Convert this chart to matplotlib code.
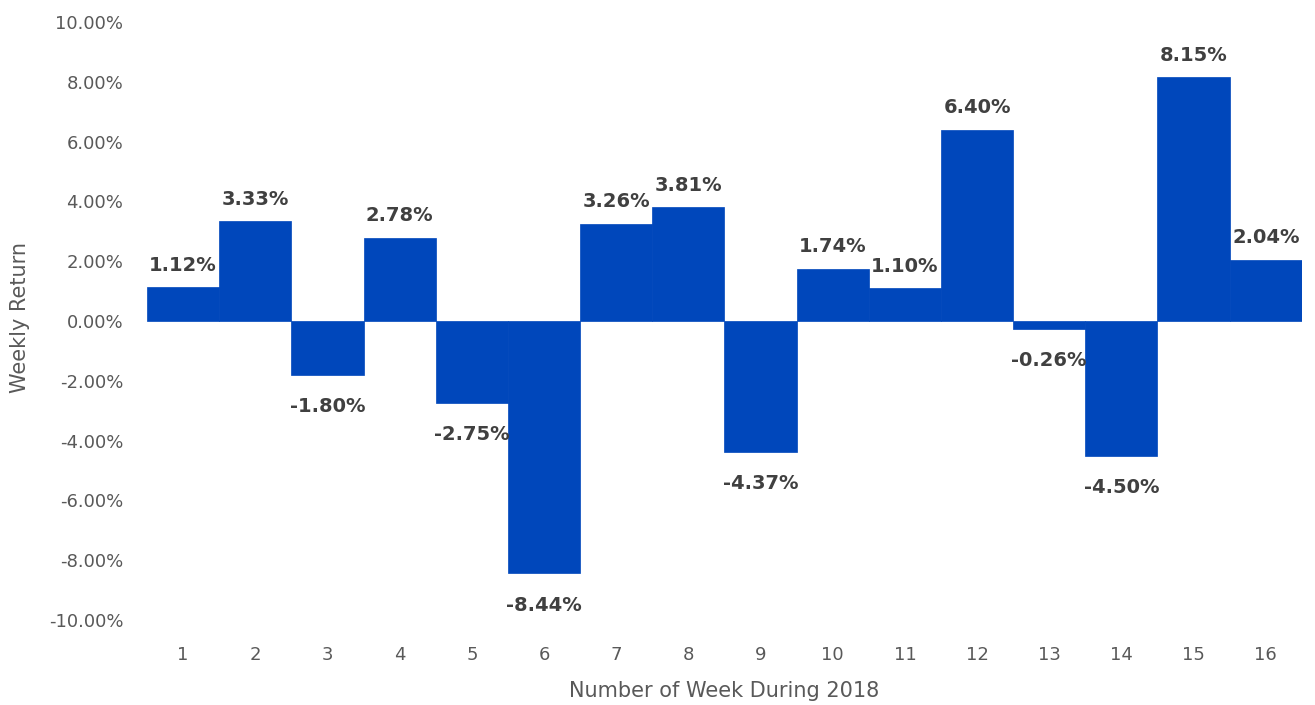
import matplotlib
matplotlib.use("Agg")
import matplotlib.pyplot as plt
from matplotlib.ticker import FuncFormatter

weeks = list(range(1, 17))
returns = [1.12, 3.33, -1.80, 2.78, -2.75, -8.44, 3.26, 3.81, -4.37, 1.74, 1.10, 6.40, -0.26, -4.50, 8.15, 2.04]
yticks = [-10, -8, -6, -4, -2, 0, 2, 4, 6, 8, 10]

plt.rcParams['font.family'] = ['DejaVu Sans']

fig = plt.figure(figsize=(13.15, 7.05), dpi=100)
ax = fig.add_axes([0.1118, 0.1206, 0.990 - 0.1118, 0.9688 - 0.1206])

vals = [r / 100 for r in returns]
ax.bar(weeks, vals, width=1.0, color='#0047BB', edgecolor='#0047BB', linewidth=0.5)

ax.set_xlim(0.5, 16.5)
ax.set_ylim(-0.10, 0.10)
ax.set_yticks([t / 100 for t in yticks])
ax.yaxis.set_major_formatter(FuncFormatter(lambda v, p: f"{v*100:.2f}%"))
ax.set_xticks(weeks)
ax.set_xticklabels([str(w) for w in weeks])

for s in ax.spines.values():
    s.set_visible(False)
ax.tick_params(axis='both', length=0, colors='#595959', labelsize=13)
ax.tick_params(axis='y', pad=17)
ax.tick_params(axis='x', pad=19)

for w, v, r in zip(weeks, vals, returns):
    if v >= 0:
        ax.annotate(f"{r:.2f}%", (w, v), xytext=(0, 9), textcoords='offset points',
                    ha='center', va='bottom', fontsize=14, fontweight='bold', color='#404040')
    else:
        ax.annotate(f"{r:.2f}%", (w, v), xytext=(0, -16), textcoords='offset points',
                    ha='center', va='top', fontsize=14, fontweight='bold', color='#404040')

ax.set_xlabel("Number of Week During 2018", fontsize=15, color='#595959', labelpad=12)
ax.set_ylabel("Weekly Return", fontsize=15, color='#595959', labelpad=12)
ax.yaxis.set_label_coords(-0.101, 0.505)

fig.savefig("out.png", dpi=100)
